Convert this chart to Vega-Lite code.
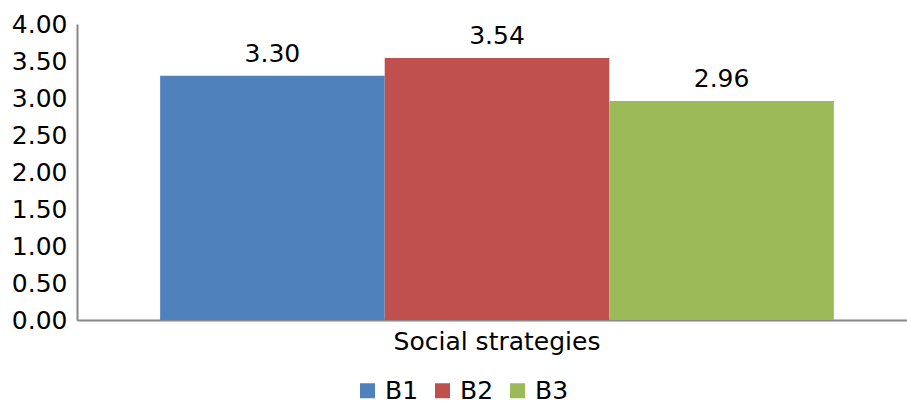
{
  "$schema": "https://vega.github.io/schema/vega-lite/v6.json",
  "autosize": "none",
  "width": 830,
  "height": 296,
  "padding": {"left": 77, "top": 24, "right": 0, "bottom": 83},
  "background": "white",
  "config": {
    "font": "DejaVu Sans",
    "view": {"stroke": null}
  },
  "data": {
    "values": [
      {"category": "Social strategies", "group": "B1", "value": 3.30},
      {"category": "Social strategies", "group": "B2", "value": 3.54},
      {"category": "Social strategies", "group": "B3", "value": 2.96}
    ]
  },
  "encoding": {
    "x": {
      "field": "category",
      "type": "nominal",
      "scale": {"paddingInner": 0, "paddingOuter": 0.116, "align": 0.532},
      "axis": {
        "title": null,
        "labelAngle": 0,
        "labelFontSize": 25,
        "labelLimit": 0,
        "labelColor": "#000",
        "labelPadding": 9,
        "ticks": false,
        "domainColor": "#888",
        "domainWidth": 2
      }
    },
    "xOffset": {"field": "group", "type": "nominal", "scale": {"paddingInner": 0, "paddingOuter": 0}},
    "y": {
      "field": "value",
      "type": "quantitative",
      "scale": {"domain": [0, 4], "nice": false},
      "axis": {
        "title": null,
        "values": [0, 0.5, 1, 1.5, 2, 2.5, 3, 3.5, 4],
        "format": ".2f",
        "grid": false,
        "ticks": false,
        "labelFontSize": 25,
        "labelColor": "#000",
        "labelPadding": 10,
        "domainColor": "#888",
        "domainWidth": 2
      }
    }
  },
  "layer": [
    {
      "mark": {"type": "bar"},
      "encoding": {
        "color": {
          "field": "group",
          "type": "nominal",
          "scale": {"domain": ["B1", "B2", "B3"], "range": ["#4F81BD", "#C0504D", "#9BBB59"]},
          "legend": {
            "title": null,
            "orient": "none",
            "legendX": 278,
            "legendY": 354,
            "direction": "horizontal",
            "symbolType": "square",
            "symbolSize": 225,
            "symbolStrokeWidth": 0,
            "labelFontSize": 25,
            "labelLimit": 0,
            "labelColor": "#000",
            "columnPadding": 11,
            "labelOffset": 5
          }
        }
      }
    },
    {
      "mark": {"type": "text", "baseline": "alphabetic", "dy": -14, "fontSize": 25, "color": "#000"},
      "encoding": {
        "text": {"field": "value", "type": "quantitative", "format": ".2f"}
      }
    }
  ]
}
